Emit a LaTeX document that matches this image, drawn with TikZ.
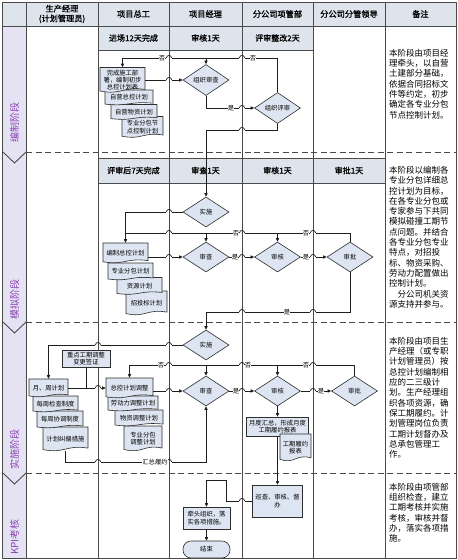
\documentclass[tikz,border=0pt]{standalone}
\usepackage{fontspec}
\setmainfont{Noto Sans CJK SC}[BoldFont={Noto Sans CJK SC}, BoldFeatures={FakeBold=1.2}]
\usepackage{xcolor}
\usetikzlibrary{arrows.meta,positioning,shapes,calc}

\definecolor{lanecol}{HTML}{4A4A4A}
\definecolor{flowcol}{HTML}{1E1E1E}
\definecolor{shapecol}{HTML}{2E2E2E}
\definecolor{boxfill}{HTML}{DCE5F1}
\definecolor{headfill}{HTML}{DEE4EC}
\definecolor{stagefill}{HTML}{E5E3F3}
\definecolor{stagetxt}{HTML}{8A45B3}

\newcommand\txtnode{\fontsize{6.3}{7.3}\selectfont}
\newcommand\txthead{\fontsize{8.2}{9.8}\selectfont\bfseries}
\newcommand\txtsub{\fontsize{8}{9}\selectfont\bfseries}
\newcommand\txtrem{\fontsize{8.5}{10.3}\selectfont}
\newcommand\txtstage{\fontsize{10}{11}\selectfont}

% document shape: name, cx, cy, w, h, text
\newcommand\docnode[6]{%
  \draw[docline] ({#2-#4/2},{#3-#5/2}) -- ({#2+#4/2},{#3-#5/2})
    -- ({#2+#4/2},{#3+#5/2-0.12*#5})
    .. controls ({#2},{#3+#5/2-0.27*#5}) and ({#2},{#3+#5/2+0.12*#5})
    .. ({#2-#4/2},{#3+#5/2-0.06*#5}) -- cycle;
  \node[docbox, minimum width=#4, minimum height=#5] (#1) at (#2,#3) {#6};}

% line hop over a lane line
\newcommand\hop[2]{%
  \fill[white] ({#1-2.6},{#2-0.8}) rectangle ({#1+2.6},{#2+0.8});
  \draw[lane] (#1,{#2-1.5}) -- (#1,{#2+1.5});
  \draw[link] ({#1-2.6},#2) .. controls ({#1-2.6},{#2-3.4}) and ({#1+2.6},{#2-3.4}) .. ({#1+2.6},#2);}

\begin{document}
\begin{tikzpicture}[x=1pt, y=-1pt,
  lane/.style={draw=lanecol, line width=0.9pt},
  stagesep/.style={draw=lanecol, line width=1pt, dash pattern=on 6pt off 3.5pt},
  flow/.style={draw=flowcol, line width=0.7pt, -{Triangle[length=3.6pt,width=3.2pt]}},
  link/.style={draw=flowcol, line width=0.7pt},
  dec/.style={diamond, draw=shapecol, fill=boxfill, line width=0.6pt,
    minimum width=46, minimum height=30, inner sep=0pt, font=\txtnode},
  procbox/.style={rectangle, draw=shapecol, fill=boxfill, line width=0.6pt,
    inner sep=0.5pt, align=center, font=\txtnode},
  docline/.style={draw=shapecol, fill=boxfill, line width=0.6pt},
  docbox/.style={inner sep=0.5pt, align=center, font=\txtnode},
  lab/.style={fill=white, inner sep=0.3pt, font=\txtnode},
  headtxt/.style={align=center, font=\txthead},
  subtxt/.style={font=\txtsub},
  remark/.style={anchor=north west, align=left, inner sep=0pt, font=\txtrem},
  stagelab/.style={rotate=90, text=stagetxt, font=\txtstage}]

\useasboundingbox (0,0) rectangle (458,560);
\fill[white] (0,0) rectangle (458,560);

% header and stage column
\fill[headfill] (2,2) rectangle (456,26);
\fill[stagefill] (3,26) rectangle (26,558);
\fill[headfill] (98,26) rectangle (313,50);
\fill[headfill] (98,158) rectangle (385,183);
\draw[lane] (98,50) -- (313,50);
\draw[lane] (98,158) rectangle (385,183);
\foreach \xx in {26,98,169,242,313,385}
  \draw[lane] (\xx,2) -- (\xx,558);
\draw[lane] (2,2) rectangle (456,558);
\draw[lane] (2,26) -- (456,26);
\foreach \yy in {152,322,473} {
  \draw[stagesep] (26,\yy) -- (456,\yy);
  \draw[lane] (3,\yy) -- (14.5,{\yy+11}) -- (26,\yy);
}

\node[headtxt] (h1) at (62,14) {生产经理\\(计划管理员)};
\node[headtxt] (h2) at (133.5,14) {项目总工};
\node[headtxt] (h3) at (205.5,14) {项目经理};
\node[headtxt] (h4) at (277.5,14) {分公司项管部};
\node[headtxt] (h5) at (349,14) {分公司分管领导};
\node[headtxt] (h6) at (420.5,14) {备注};

\node[subtxt] (sa2) at (133.5,38) {进场12天完成};
\node[subtxt] (sa3) at (205.5,38) {审核1天};
\node[subtxt] (sa4) at (277.5,38) {评审整改2天};
\node[subtxt] (sb2) at (133.5,170.5) {评审后7天完成};
\node[subtxt] (sb3) at (205.5,170.5) {审查1天};
\node[subtxt] (sb4) at (277.5,170.5) {审核1天};
\node[subtxt] (sb5) at (349,170.5) {审批1天};

\node[stagelab] (st1) at (14.5,122) {编制阶段};
\node[stagelab] (st2) at (14.5,299) {模拟阶段};
\node[stagelab] (st3) at (14.5,449) {实施阶段};
\node[stagelab] (st4) at (14.5,537) {KPI考核};

% stage 1
\docnode{s1d4}{142.5}{127}{41}{21}{专业分包节\\点控制计划}
\docnode{s1d3}{134}{112}{46}{15}{自营物资计划}
\docnode{s1d2}{129}{97.5}{48}{15}{自营总控计划}
\docnode{s1d1}{122.5}{80}{45}{25}{完成施工部\\署，编制初步\\总控计划表}
\node[dec] (s1q) at (206,80) {组织审查};
\node[dec] (s1p) at (277.5,108) {组织评审};
\coordinate (r1) at (0,58);
\coordinate (r2) at (0,130);

% stage 2
\node[dec] (s2a) at (206,212) {实施};
\docnode{s2d4}{146.5}{303}{41}{24}{招投标计划}
\docnode{s2d3}{139.5}{286}{45}{17}{资源计划}
\docnode{s2d2}{130.5}{271.5}{45}{17}{专业分包计划}
\docnode{s2d1}{125.5}{253}{45}{20}{编制总控计划}
\node[dec] (s2q) at (206,257) {审查};
\node[dec] (s2h) at (277.5,257) {审核};
\node[dec] (s2p) at (350,257) {审批};
\coordinate (r3) at (0,233);
\coordinate (r4) at (0,312);

% stage 3
\node[dec] (s3a) at (206,345) {实施};
\node[procbox, minimum width=48, minimum height=17] (s3v) at (86,358.5) {重点工期调整\\变更签证};
\docnode{s3c4}{65.5}{439}{45}{24}{计划纠偏措施}
\docnode{s3c3}{60}{419.5}{46}{17}{每周协调制度}
\docnode{s3c2}{55.5}{404}{45}{16}{每周检查制度}
\docnode{s3c1}{48.5}{388}{39}{18}{月、周计划}
\docnode{s3t4}{143}{438.5}{38}{25}{专业分包\\调整计划}
\docnode{s3t3}{139}{418}{48}{16}{物资调整计划}
\docnode{s3t2}{133}{403.5}{50}{15}{劳动力调整计划}
\docnode{s3t1}{129.5}{388}{47}{20}{总控计划调整}
\node[dec] (s3q) at (206,391) {审查};
\node[dec] (s3h) at (277.5,391) {审核};
\node[dec] (s3p) at (354.5,391) {审批};
\node[procbox, minimum width=62, minimum height=19] (s3m) at (277.5,426.5) {月度汇总，形成月度\\工期履约报表};
\docnode{s3r}{295.5}{447.5}{31}{27}{工期履约\\报表}
\coordinate (r5) at (0,365);
\coordinate (r6) at (0,462);

% KPI
\node[procbox, minimum width=50, minimum height=32] (k2) at (277.5,501) {巡查、审核、督\\办};
\node[procbox, minimum width=47, minimum height=22] (k1) at (206.5,518) {牵头组织，落\\实各项措施。};
\node[procbox, rounded corners=8pt, minimum width=47, minimum height=17] (kend) at (206.5,549.5) {结束};
\coordinate (kc) at (226,480);

% connectors
\draw[flow] (s1d1.east) -- (s1q.west);
\draw[flow] (s1q.south) |- (s1p.west);
\draw[flow] (s1p.north) |- (r1 -| s1d1.north) -- (s1d1.north);
\draw[flow] (r1 -| s1q.north) -- (s1q.north);
\draw[flow] (s1p.south) |- (r2 -| s2a.north) -- (s2a.north);

\draw[flow] (s2a.west) -| (s2d1.north);
\draw[link] (s2p.north) |- (r3 -| s2d1.north);
\draw[flow] (r3 -| s2q.north) -- (s2q.north);
\draw[flow] (r3 -| s2h.north) -- (s2h.north);
\draw[flow] (s2q.west -| s2d1.east) -- (s2q.west);
\draw[flow] (s2q.east) -- (s2h.west);
\draw[flow] (s2h.east) -- (s2p.west);
\draw[flow] (s2p.south) |- (r4 -| s3a.north) -- (s3a.north);

\draw[flow] (s3a.west) -| (s3c1.north);
\draw[flow] (s3p.north) |- (r5 -| s3t1.north) -- (s3t1.north);
\draw[flow] (r5 -| s3q.north) -- (s3q.north);
\draw[flow] (r5 -| s3h.north) -- (s3h.north);
\draw[flow] (s3c1.east) -- (s3t1.west);
\draw[link] (s3v.south) -- (s3v.south |- s3c1.east);
\draw[flow] (s3q.west -| s3t1.east) -- (s3q.west);
\draw[flow] (s3q.east) -- (s3h.west);
\draw[flow] (s3h.east) -- (s3p.west);
\draw[flow] (s3h.south) -- (s3m.north);
\draw[flow] (s3c4.south) |- (r6 -| s3q.south) -- (s3q.south);
\draw[flow] (s3m.south) -- (k2.north);

\draw[flow] (k2.west) -| (kc) -| (k1.north);
\draw[flow] (k1.south) -- (kend.north);

% hops
\hop{169}{58} \hop{242}{58} \hop{169}{80} \hop{242}{108} \hop{242}{130}
\hop{169}{212} \hop{169}{233} \hop{242}{233} \hop{313}{233}
\hop{169}{257} \hop{242}{257} \hop{313}{257} \hop{313}{312} \hop{242}{312}
\hop{169}{345} \hop{98}{345} \hop{169}{365} \hop{242}{365} \hop{313}{365}
\hop{98}{388} \hop{169}{391} \hop{242}{391} \hop{313}{391}
\hop{98}{462} \hop{169}{462} \hop{242}{501}

% labels
\node[lab] (n1) at (162,58) {否};
\node[lab] (n2) at (253,58) {否};
\node[lab] (y1) at (231,108) {是};
\node[lab] (n3) at (236,233) {否};
\node[lab] (n4) at (306,233) {否};
\node[lab] (y2) at (235,257) {是};
\node[lab] (y3) at (306,257) {是};
\node[lab] (y4) at (287,312) {是};
\node[lab] (n5) at (161,365) {否};
\node[lab] (n6) at (248,365) {否};
\node[lab] (n7) at (306,365) {否};
\node[lab] (y5) at (236,391) {是};
\node[lab] (y6) at (321,391) {是};
\node[lab] (sum) at (155,462) {汇总履约};

% remarks
\node[remark] (rm1) at (389,49) {本阶段由项目经\\理牵头，以自营\\土建部分基础，\\依据合同招标文\\件等约定，初步\\确定各专业分包\\节点控制计划。};
\node[remark] (rm2) at (389,166) {本阶段以编制各\\专业分包详细总\\控计划为目标，\\在各专业分包或\\专家参与下共同\\模拟碰撞工期节\\点问题。并结合\\各专业分包专业\\特点，对招投\\标、物资采购、\\劳动力配置做出\\控制计划。\\　分公司机关资\\源支持并参与。};
\node[remark] (rm3) at (389,337) {本阶段由项目生\\产经理（或专职\\计划管理员）按\\总控计划编制相\\应的二三级计\\划。生产经理组\\织各项资源，确\\保工期履约。计\\划管理岗位负责\\工期计划督办及\\总承包管理工\\作。};
\node[remark] (rm4) at (389,483) {本阶段由项管部\\组织检查，建立\\工期考核并实施\\考核，审核并督\\办，落实各项措\\施。};

\end{tikzpicture}
\end{document}
